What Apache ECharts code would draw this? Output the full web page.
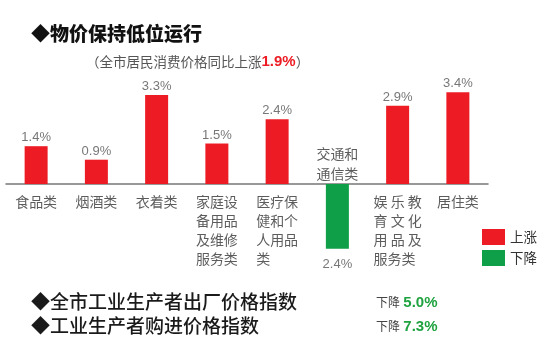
<!DOCTYPE html>
<html>
<head>
<meta charset="utf-8">
<script src="https://cdn.jsdelivr.net/npm/echarts@6/dist/echarts.min.js"></script>
<style>html,body{margin:0;padding:0;background:#fff;}#c{width:546px;height:355px;}</style>
</head>
<body>
<div id="c"></div>
<script>
const categories = ['食品类','烟酒类','衣着类','家庭设备用品及维修服务类','医疗保健和个人用品类','交通和通信类','娱乐教育文化用品及服务类','居住类'];
const categoryLabels = ['食品类','烟酒类','衣着类','家庭设\n备用品\n及维修\n服务类','医疗保\n健和个\n人用品\n类\u3000\u3000','交通和\n通信类','娱 乐 教\n育 文 化\n用 品 及\n服务类  ','居住类'];
const values = [1.4, 0.9, 3.3, 1.5, 2.4, -2.4, 2.9, 3.4];
const legendNames = ['上涨', '下降'];
const titleText = '◆物价保持低位运行';
const subtitlePre = '（全市居民消费价格同比上涨';
const subtitleValue = '1.9%';
const subtitlePost = '）';
const indexNames = ['◆全市工业生产者出厂价格指数', '◆工业生产者购进价格指数'];
const indexChangeWord = '下降';
const indexChanges = ['5.0%', '7.3%'];

const RED = '#ed1c24', GREEN = '#0e9f48', TXTGREEN = '#1fa340';
const CJK = '"Noto Sans CJK SC", sans-serif';
const NARROW = '"Liberation Sans Narrow", "Liberation Sans", sans-serif';
const chart = echarts.init(document.getElementById('c'));

const graphics = [
  { type: 'text', left: 31, top: 24, style: { text: titleText, font: '900 19px ' + CJK, fill: '#111' } },
  { type: 'text', left: 86, top: 54, style: {
      text: '{a|' + subtitlePre + '}{b|' + subtitleValue + '}{a|' + subtitlePost + '}',
      rich: {
        a: { fontFamily: CJK, fontSize: 13.5, fill: '#555' },
        b: { fontFamily: NARROW, fontWeight: 'bold', fontSize: 15, fill: RED }
      } } }
];
indexNames.forEach((t, i) => {
  graphics.push({ type: 'text', left: 31, top: 292 + i * 24, style: { text: t, font: '500 19px ' + CJK, fill: '#1a1a1a' } });
  graphics.push({ type: 'text', left: 376, top: 295 + i * 24, style: {
    text: '{a|' + indexChangeWord + '} {b|' + indexChanges[i] + '}',
    rich: {
      a: { fontFamily: CJK, fontSize: 12, fill: '#444' },
      b: { fontFamily: NARROW, fontWeight: 'bold', fontSize: 15, fill: TXTGREEN }
    } } });
});

const catLabelStyle = { show: true, fontFamily: CJK, fontSize: 14, lineHeight: 19, color: '#333' };

chart.setOption({
  animation: false,
  backgroundColor: '#fff',
  grid: { left: 6, width: 482, top: 76, height: 216, containLabel: false, outerBoundsMode: 'none' },
  legend: {
    data: legendNames, orient: 'vertical', left: 477, top: 224,
    itemWidth: 23, itemHeight: 16, itemGap: 5, icon: 'rect',
    textStyle: { fontFamily: CJK, fontSize: 13.5, color: '#333' }
  },
  xAxis: {
    type: 'category', data: categories,
    axisLine: { onZero: true, lineStyle: { color: '#777', width: 1.5 } },
    axisTick: { show: false },
    axisLabel: { show: false }
  },
  yAxis: { type: 'value', min: -4, max: 4, interval: 1, show: false, splitLine: { show: false } },
  series: [
    { name: legendNames[0], type: 'bar', barWidth: 23, barGap: '-100%', itemStyle: { color: RED },
      data: values.map(v => v > 0 ? v : '-') },
    { name: legendNames[1], type: 'bar', barWidth: 23, barGap: '-100%', itemStyle: { color: GREEN },
      data: values.map(v => v < 0 ? v : '-') },
    { type: 'scatter', symbolSize: 0, silent: true,
      data: values.map((v, i) => ({ value: [i, v], label: { position: v >= 0 ? 'top' : 'bottom', distance: v >= 0 ? 2 : 9 } })),
      label: { show: true, fontFamily: '"Liberation Sans", sans-serif', fontSize: 13, color: '#555',
        formatter: p => Math.abs(p.value[1]).toFixed(1) + '%' } },
    { type: 'scatter', symbolSize: 0, silent: true,
      data: values.map((v, i) => ({ value: [i, 0],
        label: v < 0 ? { position: 'top', distance: 0, lineHeight: 20 } : { position: 'bottom', distance: 8 } })),
      label: Object.assign({}, catLabelStyle, { formatter: p => categoryLabels[p.dataIndex] }) }
  ],
  graphic: graphics
});
</script>
</body>
</html>
